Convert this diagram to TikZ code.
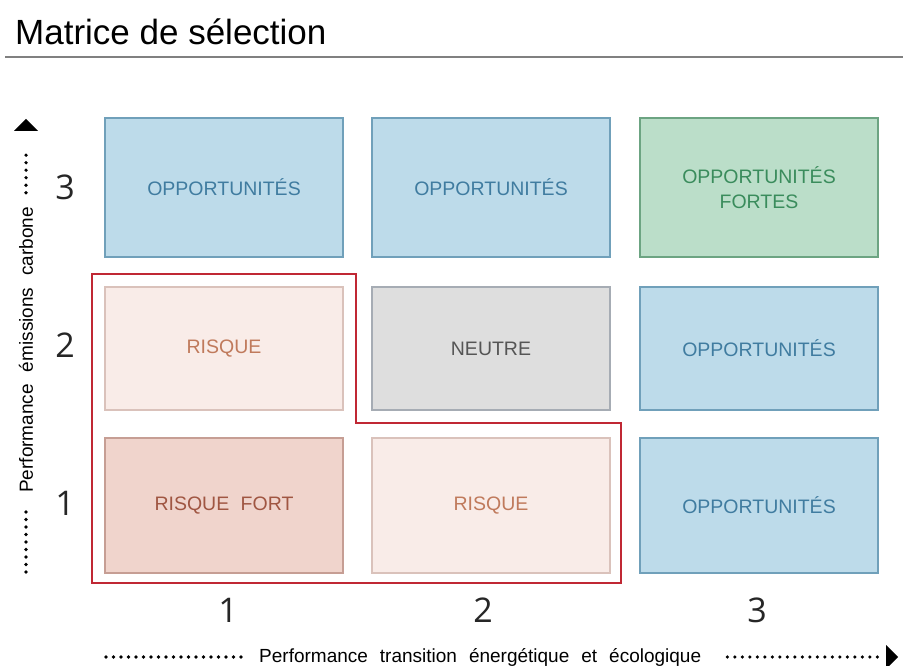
\documentclass[tikz,border=0pt]{standalone}
\usepackage{fontspec}
\setmainfont{Liberation Sans}
\newfontfamily\numfont{Open Sans}
\usetikzlibrary{arrows.meta}
\definecolor{oppfill}{RGB}{189,219,234}
\definecolor{oppline}{RGB}{112,160,186}
\definecolor{opptext}{RGB}{64,124,160}
\definecolor{fortfill}{RGB}{187,222,201}
\definecolor{fortline}{RGB}{108,164,130}
\definecolor{forttext}{RGB}{58,140,92}
\definecolor{risfill}{RGB}{249,236,232}
\definecolor{risline}{RGB}{218,194,187}
\definecolor{ristext}{RGB}{192,122,92}
\definecolor{rfffill}{RGB}{240,212,204}
\definecolor{rffline}{RGB}{198,158,148}
\definecolor{rfftext}{RGB}{160,86,66}
\definecolor{neufill}{RGB}{222,222,222}
\definecolor{neuline}{RGB}{166,172,180}
\definecolor{neutext}{RGB}{85,85,85}
\definecolor{zone}{RGB}{192,40,52}
\newcommand\blanc{\hspace{12pt}}
\tikzset{
cell/.style={draw,line width=1.2pt,inner sep=0pt,outer sep=0pt,minimum width=238pt,
  align=center,font=\fontsize{19.5}{25}\selectfont},
opp/.style={cell,fill=oppfill,draw=oppline,text=opptext},
oppfort/.style={cell,fill=fortfill,draw=fortline,text=forttext},
risque/.style={cell,fill=risfill,draw=risline,text=ristext},
risquefort/.style={cell,fill=rfffill,draw=rffline,text=rfftext},
neutre/.style={cell,fill=neufill,draw=neuline,text=neutext},
note/.style={font=\numfont\fontsize{34}{34}\selectfont,text=black!85},
axe/.style={font=\fontsize{19}{22}\selectfont,inner ysep=0pt,inner xsep=14pt},
pointille/.style={line width=3.6pt,line cap=round,dash pattern=on 0pt off 7.5pt}}

\begin{document}
\begin{tikzpicture}[x=1pt,y=-1pt]
\useasboundingbox (0,0) rectangle (903,666);

% titre
\node[anchor=base west,inner sep=0pt,font=\fontsize{35}{35}\selectfont] (titre) at (15,45) {Matrice de sélection};
\draw[line width=2.5pt,black!50] (5,57) -- (903,57);

% matrice
\node[opp,minimum height=139pt] (r3c1) at (224,187.5) {OPPORTUNITÉS};
\node[opp,minimum height=139pt] (r3c2) at (491,187.5) {OPPORTUNITÉS};
\node[oppfort,minimum height=139pt] (r3c3) at (759,187.5) {OPPORTUNITÉS\\FORTES};
\node[risque,minimum height=123pt] (r2c1) at (224,348.5) {RISQUE};
\node[neutre,minimum height=123pt] (r2c2) at (491,348.5) {NEUTRE};
\node[opp,minimum height=123pt] (r2c3) at (759,348.5) {OPPORTUNITÉS};
\node[risquefort,minimum height=135pt] (r1c1) at (224,505.5) {RISQUE\hspace{6pt} FORT};
\node[risque,minimum height=135pt] (r1c2) at (491,505.5) {RISQUE};
\node[opp,minimum height=135pt] (r1c3) at (759,505.5) {OPPORTUNITÉS};

% zone de risque
\draw[zone,line width=2.2pt,line join=miter] (92,274) -- (356,274) -- (356,423) -- (621,423)
  -- (621,583) -- (92,583) -- cycle;

% notes
\node[note] (y3) at (65,187) {3};
\node[note] (y2) at (65,345) {2};
\node[note] (y1) at (65,503) {1};
\node[note] (x1) at (228,610) {1};
\node[note] (x2) at (483,610) {2};
\node[note] (x3) at (757,610) {3};

% axes
\node[axe,rotate=90,anchor=west] (ylab) at (26,507) {Performance\blanc émissions\blanc carbone};
\coordinate (ybas) at (26,572);
\coordinate (yhaut) at (26,150);
\draw[pointille] (ybas) -- (ylab.west);
\draw[pointille] (ylab.east) -- (yhaut);
\fill (26,119) -- (38,131) -- (14,131) -- cycle;

\node[axe,anchor=west] (xlab) at (245,657) {Performance\blanc transition\blanc énergétique\blanc et\blanc écologique};
\coordinate (xgauche) at (106,657);
\coordinate (xdroite) at (880,657);
\draw[pointille] (xgauche) -- (xlab.west);
\draw[pointille] ([xshift=12pt]xlab.east) -- (xdroite);
\fill (898,657) -- (886,645) -- (886,669) -- cycle;

\end{tikzpicture}
\end{document}
